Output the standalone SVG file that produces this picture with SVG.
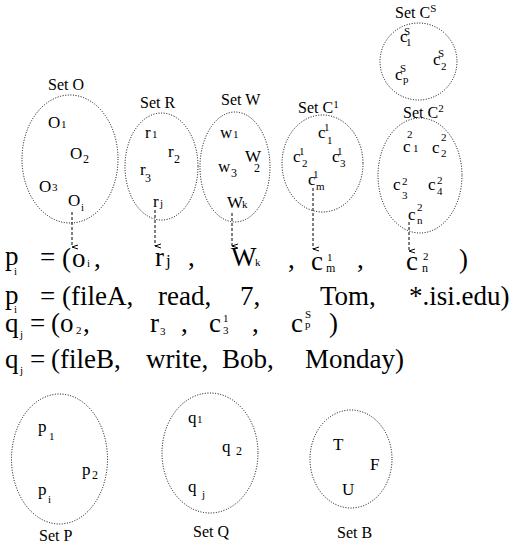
<svg xmlns="http://www.w3.org/2000/svg" width="514" height="547" viewBox="0 0 514 547" font-family="'Liberation Serif', 'Times New Roman', serif">
  <style>
    text { font-family: 'Liberation Serif', 'Times New Roman', serif; fill: #000; }
    .lbl { font-size: 16px; }
    .el { font-size: 17px; }
    .sm { font-size: 11px; }
    .big { font-size: 27px; }
    .bs { font-size: 12px; }
    .set { fill: none; stroke: #000; stroke-width: 1; stroke-dasharray: 1 1.6; }
    .link { fill: none; stroke: #000; stroke-width: 1; stroke-dasharray: 3 2; }
  </style>
  <defs>
    <marker id="tip" markerWidth="6" markerHeight="7" refX="3" refY="6" orient="auto-start-reverse" markerUnits="userSpaceOnUse" viewBox="0 0 6 7">
      <path d="M1,0 L3,6 L5,0" fill="none" stroke="#000" stroke-width="1"/>
    </marker>
  </defs>

  <!-- Set O -->
  <g id="set-o">
    <text class="lbl" x="48" y="90">Set O</text>
    <ellipse class="set" cx="70" cy="159" rx="48" ry="64"/>
    <text class="el" x="48" y="128">O</text><text class="sm" x="61" y="128">1</text>
    <text class="el" x="70" y="159">O</text><text class="bs" x="83" y="163">2</text>
    <text class="el" x="39" y="192">O</text><text class="sm" x="52" y="191">3</text>
    <text class="el" x="68" y="206">O</text><text class="sm" x="81" y="211">i</text>
  </g>

  <!-- Set R -->
  <g id="set-r">
    <text class="lbl" x="140" y="108">Set R</text>
    <ellipse class="set" cx="161.5" cy="166.5" rx="36.5" ry="53.5"/>
    <text class="el" x="145" y="138">r</text><text class="sm" x="152" y="138">1</text>
    <text class="el" x="168" y="157">r</text><text class="bs" x="174" y="163">2</text>
    <text class="el" x="140" y="175">r</text><text class="bs" x="145" y="182">3</text>
    <text class="el" x="153" y="207">r</text><text class="sm" x="160" y="207">j</text>
  </g>

  <!-- Set W -->
  <g id="set-w">
    <text class="lbl" x="221" y="105">Set W</text>
    <ellipse class="set" cx="235" cy="167" rx="35" ry="55"/>
    <text class="el" x="220" y="138">w</text><text class="sm" x="233" y="138">1</text>
    <text class="el" x="245" y="162">W</text><text class="bs" x="254" y="172">2</text>
    <text class="el" x="218" y="172">w</text><text class="bs" x="231" y="177">3</text>
    <text class="el" x="227" y="208">W</text><text class="sm" x="242" y="208">k</text>
  </g>

  <!-- Set C1 -->
  <g id="set-c1">
    <text class="lbl" x="298" y="113">Set C<tspan class="sm" dy="-5">1</tspan></text>
    <ellipse class="set" cx="322.5" cy="163.5" rx="40.5" ry="48.5"/>
    <text class="el" x="318" y="138">c</text><text class="sm" x="324" y="131">1</text><text class="sm" x="327" y="144">1</text>
    <text class="el" x="293" y="162">c</text><text class="sm" x="299" y="155">1</text><text class="sm" x="302" y="167">2</text>
    <text class="el" x="332" y="162">c</text><text class="sm" x="337" y="155">1</text><text class="sm" x="340" y="167">3</text>
    <text class="el" x="308" y="185">c</text><text class="sm" x="313" y="178">1</text><text class="sm" x="316" y="190">m</text>
  </g>

  <!-- Set CS -->
  <g id="set-cs">
    <text class="lbl" x="395" y="18">Set C<tspan class="sm" dy="-6">S</tspan></text>
    <ellipse class="set" cx="418.5" cy="61.5" rx="38.5" ry="38.5"/>
    <text class="el" x="400" y="42">c</text><text class="sm" x="404" y="35">S</text><text class="sm" x="406" y="46">1</text>
    <text class="el" x="433" y="65">c</text><text class="sm" x="438" y="57">S</text><text class="sm" x="441" y="70">2</text>
    <text class="el" x="395" y="80">c</text><text class="sm" x="400" y="72">S</text><text class="sm" x="403" y="83">p</text>
  </g>

  <!-- Set C2 -->
  <g id="set-c2">
    <text class="lbl" x="403" y="118">Set C<tspan class="sm" dy="-6">2</tspan></text>
    <ellipse class="set" cx="420" cy="175.5" rx="42" ry="57.5"/>
    <text class="el" x="403" y="152">c</text><text class="sm" x="407" y="138">2</text><text class="sm" x="413" y="152">1</text>
    <text class="el" x="432" y="153">c</text><text class="sm" x="441" y="141">2</text><text class="sm" x="441" y="157">2</text>
    <text class="el" x="393" y="190">c</text><text class="sm" x="402" y="185">2</text><text class="sm" x="402" y="199">3</text>
    <text class="el" x="428" y="190">c</text><text class="sm" x="437" y="184">2</text><text class="sm" x="437" y="195">4</text>
    <text class="el" x="408" y="220">c</text><text class="sm" x="417" y="211">2</text><text class="sm" x="417" y="224">n</text>
  </g>

  <!-- links from set members down to the tuple -->
  <g id="links">
    <path class="link" d="M72,212 V247" marker-end="url(#tip)"/>
    <path class="link" d="M155,210 V246" marker-end="url(#tip)"/>
    <path class="link" d="M232,213 V246" marker-end="url(#tip)"/>
    <path class="link" d="M313,188 V249" marker-end="url(#tip)"/>
    <path class="link" d="M409,222 V251" marker-end="url(#tip)"/>
  </g>

  <!-- tuple p_i -->
  <g id="tuple-p">
    <text class="big" x="5" y="265">p</text><text class="sm" x="14" y="275">i</text>
    <text class="big" x="40" y="266">=</text>
    <text class="big" x="62" y="267">(</text>
    <text class="big" x="72" y="267">o</text><text class="sm" x="87" y="267">i</text>
    <text class="big" x="94" y="267">,</text>
    <text class="big" x="155" y="266">r</text><text class="el" x="166" y="266">j</text>
    <text class="big" x="188" y="266">,</text>
    <text class="big" x="231" y="266">W</text><text class="sm" x="255" y="266">k</text>
    <text class="big" x="288" y="268">,</text>
    <text class="big" x="311" y="270">c</text><text class="sm" x="327" y="261">1</text><text class="bs" x="326" y="272">m</text>
    <text class="big" x="357" y="268">,</text>
    <text class="big" x="406" y="270">c</text><text class="sm" x="423" y="260">2</text><text class="bs" x="422" y="272">n</text>
    <text class="big" x="459" y="268">)</text>
  </g>

  <!-- tuple p_i values -->
  <g id="tuple-p-values">
    <text class="big" x="5" y="304">p</text><text class="sm" x="14" y="313">i</text>
    <text class="big" x="40" y="305">=</text>
    <text class="big" x="62" y="305">(fileA,</text>
    <text class="big" x="158" y="305">read,</text>
    <text class="big" x="240" y="305">7,</text>
    <text class="big" x="320" y="305">Tom,</text>
    <text class="big" x="409" y="305">*.isi.edu)</text>
  </g>

  <!-- tuple q_j -->
  <g id="tuple-q">
    <text class="big" x="5" y="332">q</text><text class="sm" x="20" y="338">j</text>
    <text class="big" x="30" y="332">=</text>
    <text class="big" x="51" y="332">(</text>
    <text class="big" x="60" y="332">o</text><text class="sm" x="76" y="334">2</text>
    <text class="big" x="83" y="332">,</text>
    <text class="big" x="150" y="332">r</text><text class="sm" x="160" y="335">3</text>
    <text class="big" x="181" y="332">,</text>
    <text class="big" x="209" y="332">c</text><text class="sm" x="223" y="322">1</text><text class="sm" x="223" y="334">3</text>
    <text class="big" x="252" y="332">,</text>
    <text class="big" x="291" y="332">c</text><text class="sm" x="305" y="318">S</text><text class="sm" x="305" y="328">p</text>
    <text class="big" x="329" y="332">)</text>
  </g>

  <!-- tuple q_j values -->
  <g id="tuple-q-values">
    <text class="big" x="5" y="368">q</text><text class="sm" x="20" y="374">j</text>
    <text class="big" x="30" y="368">=</text>
    <text class="big" x="51" y="368">(fileB,</text>
    <text class="big" x="146" y="368">write,</text>
    <text class="big" x="222" y="368">Bob,</text>
    <text class="big" x="305" y="368">Monday)</text>
  </g>

  <!-- Set P -->
  <g id="set-p">
    <ellipse class="set" cx="59.5" cy="459" rx="48" ry="65"/>
    <text class="el" x="38" y="432">p</text><text class="sm" x="49" y="440">1</text>
    <text class="el" x="82" y="475">p</text><text class="bs" x="92" y="479">2</text>
    <text class="el" x="38" y="495">p</text><text class="sm" x="48" y="503">i</text>
    <text class="lbl" x="39" y="541">Set P</text>
  </g>

  <!-- Set Q -->
  <g id="set-q">
    <ellipse class="set" cx="210" cy="453" rx="48" ry="60"/>
    <text class="el" x="188" y="423">q</text><text class="sm" x="197" y="423">1</text>
    <text class="el" x="222" y="452">q</text><text class="bs" x="236" y="455">2</text>
    <text class="el" x="188" y="492">q</text><text class="sm" x="202" y="498">j</text>
    <text class="lbl" x="193" y="537">Set Q</text>
  </g>

  <!-- Set B -->
  <g id="set-b">
    <ellipse class="set" cx="351" cy="459" rx="41" ry="49"/>
    <text class="el" x="333" y="450">T</text>
    <text class="el" x="370" y="470">F</text>
    <text class="el" x="342" y="495">U</text>
    <text class="lbl" x="337" y="538">Set B</text>
  </g>
</svg>
